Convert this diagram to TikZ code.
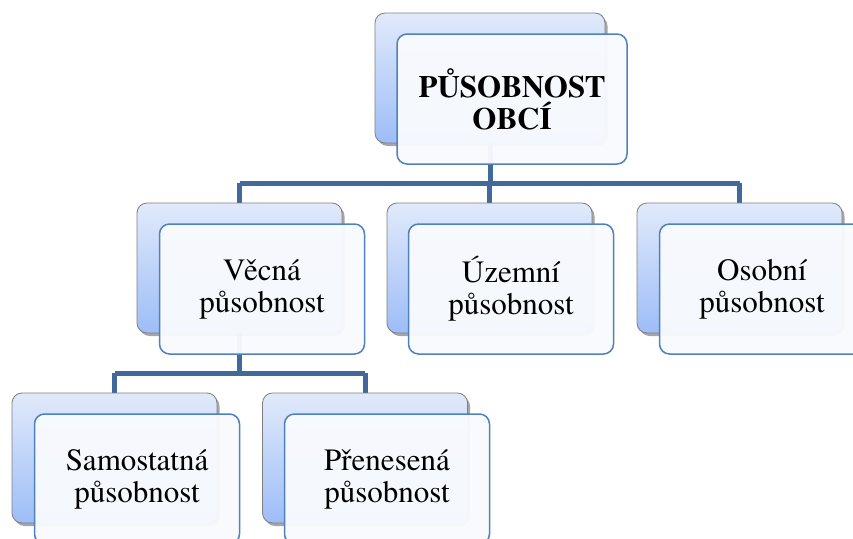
\documentclass[tikz,border=0pt]{standalone}
\usepackage{fontspec}
\setmainfont{texgyretermes}[Extension=.otf, UprightFont=*-regular, BoldFont=*-bold, ItalicFont=*-italic, BoldItalicFont=*-bolditalic]
\usetikzlibrary{shadows}
\definecolor{linkc}{HTML}{41699B}
\definecolor{backtop}{HTML}{E1EAFB}
\definecolor{backbot}{HTML}{9DBDF7}
\definecolor{backedge}{HTML}{7F7F7F}
\definecolor{frontfill}{HTML}{F8FAFE}
\definecolor{frontedge}{HTML}{4F81BD}
\tikzset{
  backbox/.style={draw=backedge, line width=0.8pt, rounded corners=10pt,
    top color=backtop, bottom color=backbot, minimum height=130pt,
    inner sep=0pt, drop shadow={shadow xshift=2.5pt, shadow yshift=-3pt, opacity=0.35, fill=black}},
  frontbox/.style={draw=frontedge, line width=1.5pt, rounded corners=10pt,
    fill=frontfill, fill opacity=0.965, text opacity=1, minimum height=130pt,
    inner sep=0pt, align=center, font=\fontsize{31}{32}\selectfont},
  link/.style={draw=linkc, line width=5pt}
}
\begin{document}
\begin{tikzpicture}[x=1pt,y=-1pt]
\useasboundingbox (0,0) rectangle (853,538);
\clip (0,0) rectangle (853,538);
% bus coordinates
\coordinate (bus1) at (490,183);
\coordinate (bus2) at (238,373);
% back boxes (positions)
\path
  (490,78)    coordinate (pRB)
  (239.5,268) coordinate (pVB)
  (489.5,268) coordinate (pUB)
  (739.5,268) coordinate (pOB)
  (114.5,458) coordinate (pSB)
  (365,458)   coordinate (pPB);
% connectors (drawn first, behind boxes)
\node[minimum width=230pt, minimum height=130pt, inner sep=0pt] (rootB) at (pRB) {};
\node[minimum width=205pt, minimum height=130pt, inner sep=0pt] (vecB) at (pVB) {};
\node[minimum width=205pt, minimum height=130pt, inner sep=0pt] (uzeB) at (pUB) {};
\node[minimum width=205pt, minimum height=130pt, inner sep=0pt] (osoB) at (pOB) {};
\node[minimum width=205pt, minimum height=130pt, inner sep=0pt] (samB) at (pSB) {};
\node[minimum width=205pt, minimum height=130pt, inner sep=0pt] (preB) at (pPB) {};
\draw[link] (rootB.south) -- (rootB.south |- bus1);
\draw[link] (vecB.north |- bus1) -- (osoB.north |- bus1);
\draw[link] (vecB.north |- bus1) -- (vecB.north);
\draw[link] (uzeB.north |- bus1) -- (uzeB.north);
\draw[link] (osoB.north |- bus1) -- (osoB.north);
\draw[link] (vecB.south) -- (vecB.south |- bus2);
\draw[link] (samB.north |- bus2) -- (preB.north |- bus2);
\draw[link] (samB.north |- bus2) -- (samB.north);
\draw[link] (preB.north |- bus2) -- (preB.north);
% visible back boxes
\node[backbox, minimum width=230pt] (rootBv) at (pRB) {};
\node[backbox, minimum width=205pt] (vecBv) at (pVB) {};
\node[backbox, minimum width=205pt] (uzeBv) at (pUB) {};
\node[backbox, minimum width=205pt] (osoBv) at (pOB) {};
\node[backbox, minimum width=205pt] (samBv) at (pSB) {};
\node[backbox, minimum width=205pt] (preBv) at (pPB) {};
% front boxes with text
\node[frontbox, minimum width=230pt] (root) at (512,99) {\bfseries PŮSOBNOST\\\bfseries OBCÍ};
\node[frontbox, minimum width=205pt] (vec) at (262,289) {Věcná\\působnost};
\node[frontbox, minimum width=205pt] (uze) at (511,289) {Územní\\působnost};
\node[frontbox, minimum width=205pt] (oso) at (762,289) {Osobní\\působnost};
\node[frontbox, minimum width=205pt] (sam) at (137,479) {Samostatná\\působnost};
\node[frontbox, minimum width=205pt] (pre) at (387,479) {Přenesená\\působnost};
\end{tikzpicture}
\end{document}
